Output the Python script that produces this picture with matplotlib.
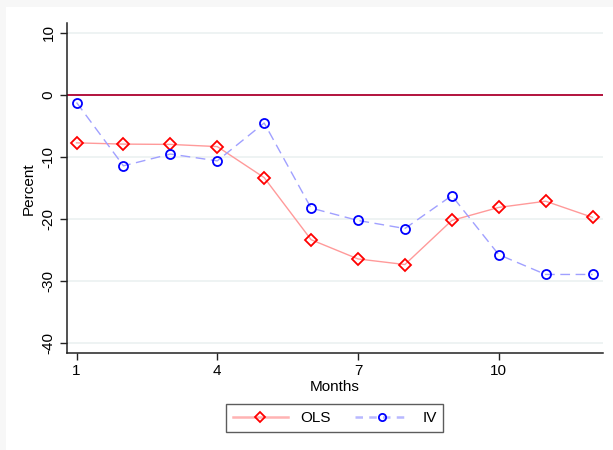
import numpy as np
import matplotlib
matplotlib.use("Agg")
import matplotlib.pyplot as plt
from matplotlib.patches import Rectangle

plt.rcParams['font.family'] = ['Liberation Sans', 'DejaVu Sans']

months = np.arange(1, 13)
ols = [-7.7, -7.9, -7.95, -8.3, -13.3, -23.3, -26.4, -27.3, -20.2, -18.1, -17.1, -19.7]
iv = [-1.2, -11.4, -9.5, -10.6, -4.5, -18.2, -20.2, -21.5, -16.2, -25.7, -28.9, -28.9]
yticks = [10, 0, -10, -20, -30, -40]
xticks = [1, 4, 7, 10]

fig = plt.figure(figsize=(6.13, 4.5), dpi=100, facecolor='#f7f7f7')
# white graph region, light gray margin top/left
fig.patches.append(Rectangle((6 / 613, 0), 1, 1 - 7 / 450, transform=fig.transFigure,
                             facecolor='white', edgecolor='none', zorder=-10))

ax = fig.add_axes([66.7 / 613, 1 - 353.3 / 450, (603.3 - 66.7) / 613, (353.3 - 23.3) / 450])
ax.set_facecolor('white')

for y in yticks:
    ax.axhline(y, color='#eaf0f0', lw=1.1, zorder=1)
ax.axhline(0, color='#b3123e', lw=1.4, zorder=2)

ax.plot(months, ols, color='#ff9a9a', lw=1.0, marker='D', ms=6.5, mfc='none',
        mec='#ff0000', mew=1.3, label='OLS', zorder=3)
ax.plot(months, iv, color='#a0a0ff', lw=1.0, ls=(0, (7, 4)), marker='o', ms=6.5,
        mfc='none', mec='#0000ff', mew=1.3, label='IV', zorder=3)

ax.set_xlim(0.79, 12.23)
ax.set_ylim(-41.6, 11.56)
ax.set_xticks(xticks)
ax.set_yticks(yticks)
ax.set_yticklabels([str(t) for t in yticks], rotation=90, va='center')
ax.tick_params(axis='both', labelsize=11, length=5, width=1, color='#222222', pad=3)

for s in ['top', 'right']:
    ax.spines[s].set_visible(False)
for s in ['left', 'bottom']:
    ax.spines[s].set_color('#222222')
    ax.spines[s].set_linewidth(1.1)

ax.set_xlabel('Months', fontsize=11, labelpad=1)
ax.set_ylabel('Percent', fontsize=11, labelpad=4)

leg = fig.legend(loc='center', bbox_to_anchor=(334.7 / 613, 1 - 418 / 450), ncol=2,
                 fontsize=11, frameon=True, fancybox=False, edgecolor='#333333',
                 handlelength=3.6, columnspacing=1.6, handletextpad=0.8,
                 borderpad=0.45, markerscale=0.8)
leg.get_frame().set_linewidth(1.0)
# legend keys are drawn a bit heavier and paler
for h, c in zip(leg.get_lines(), ['#ffb3b3', '#b8b8ff']):
    h.set_linewidth(1.8)
    h.set_color(c)
leg.get_lines()[1].set_linestyle((0, (3, 2.5)))

fig.savefig('out.png', dpi=100, facecolor=fig.get_facecolor())
